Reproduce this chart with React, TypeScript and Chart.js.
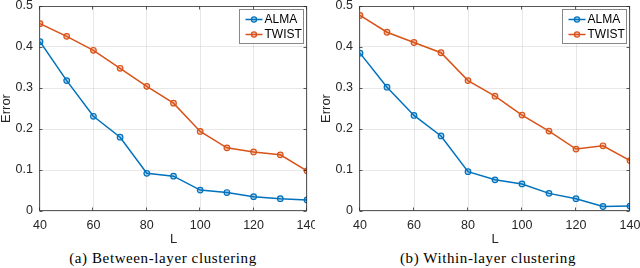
import React, { useEffect, useRef } from "react";
import { Chart, registerables } from "chart.js";

Chart.register(...registerables);

const L = [40, 50, 60, 70, 80, 90, 100, 110, 120, 130, 140];
const almaBetween = [0.413, 0.318, 0.231, 0.18, 0.092, 0.085, 0.051, 0.045, 0.035, 0.03, 0.027];
const twistBetween = [0.457, 0.426, 0.392, 0.348, 0.304, 0.263, 0.194, 0.154, 0.144, 0.137, 0.098];
const almaWithin = [0.385, 0.302, 0.233, 0.183, 0.096, 0.076, 0.066, 0.043, 0.03, 0.011, 0.012];
const twistWithin = [0.477, 0.436, 0.411, 0.386, 0.318, 0.28, 0.234, 0.195, 0.151, 0.159, 0.123];
const seriesNames = ["ALMA", "TWIST"];
const seriesColors = ["#0072BD", "#D95319"];
const seriesFills = ["rgba(0,114,189,0.3)", "rgba(217,83,25,0.3)"];
const xTickStep = 20;
const yTickStep = 0.1;
const xLabel = "L";
const yLabel = "Error";

const SANS = "'Liberation Sans', Arial, Helvetica, sans-serif";
const TEXT = "#262626";

const boxPlugin = {
  id: "matlabBox",
  afterDraw(chart: any) {
    const { ctx, chartArea: a, scales } = chart;
    ctx.save();
    ctx.strokeStyle = "rgba(38,38,38,0.75)";
    ctx.lineWidth = 1;
    const l = Math.round(a.left) - 0.5;
    const r = Math.round(a.right) - 0.5;
    const t = Math.round(a.top) + 0.5;
    const b = Math.round(a.bottom) - 0.5;
    ctx.strokeRect(l, t, r - l, b - t);
    ctx.beginPath();
    const tl = 3;
    scales.x.ticks.forEach((tk: any) => {
      const px = Math.round(scales.x.getPixelForValue(tk.value)) - 0.5;
      ctx.moveTo(px, b);
      ctx.lineTo(px, b - tl);
      ctx.moveTo(px, t);
      ctx.lineTo(px, t + tl);
    });
    scales.y.ticks.forEach((tk: any) => {
      const py = Math.round(scales.y.getPixelForValue(tk.value)) + 0.5;
      ctx.moveTo(l, py);
      ctx.lineTo(l + tl, py);
      ctx.moveTo(r, py);
      ctx.lineTo(r - tl, py);
    });
    ctx.stroke();

    // legend box
    const bw = 64;
    const bh = 34;
    const bx = Math.round(a.right - 4 - bw) + 0.5;
    const by = Math.round(a.top + 3) + 0.5;
    ctx.fillStyle = "#ffffff";
    ctx.fillRect(bx, by, bw, bh);
    ctx.strokeStyle = "rgba(38,38,38,0.55)";
    ctx.strokeRect(bx, by, bw, bh);
    chart.data.datasets.forEach((ds: any, i: number) => {
      const yy = by + 10 + i * 15;
      ctx.strokeStyle = ds.borderColor;
      ctx.lineWidth = 1.5;
      ctx.beginPath();
      ctx.moveTo(bx + 6, yy);
      ctx.lineTo(bx + 23, yy);
      ctx.stroke();
      ctx.beginPath();
      ctx.arc(bx + 14.5, yy, 2.6, 0, Math.PI * 2);
      ctx.fillStyle = ds.pointBackgroundColor;
      ctx.fill();
      ctx.lineWidth = 1.2;
      ctx.stroke();
      ctx.fillStyle = "#000";
      ctx.font = `12px ${SANS}`;
      ctx.textBaseline = "middle";
      ctx.textAlign = "left";
      ctx.fillText(ds.label, bx + 25, yy + 0.5);
    });
    ctx.restore();
  },
};

type PanelProps = {
  left: number;
  width: number;
  padRight: number;
  alma: number[];
  twist: number[];
  caption: string;
  captionCenter: number;
};

const H = 250;

function Panel({ left, width, padRight, alma, twist, caption, captionCenter }: PanelProps) {
  const ref = useRef<HTMLCanvasElement | null>(null);
  useEffect(() => {
    if (!ref.current) return;
    const series = [alma, twist];
    const chart = new Chart(ref.current, {
      type: "line",
      data: {
        datasets: series.map((vals, i) => ({
          label: seriesNames[i],
          data: L.map((x, j) => ({ x, y: vals[j] })),
          borderColor: seriesColors[i],
          backgroundColor: seriesColors[i],
          pointBackgroundColor: seriesFills[i],
          pointBorderColor: seriesColors[i],
          pointRadius: 2.8,
          pointBorderWidth: 1.2,
          borderWidth: 1.5,
          tension: 0,
        })),
      },
      options: {
        responsive: false,
        animation: false,
        devicePixelRatio: 1,
        layout: { padding: { top: 6, right: padRight, left: 0, bottom: 0 } },
        plugins: { legend: { display: false }, tooltip: { enabled: false } },
        scales: {
          x: {
            type: "linear",
            min: L[0],
            max: L[L.length - 1],
            ticks: {
              stepSize: xTickStep,
              color: TEXT,
              font: { family: SANS, size: 12.5 },
              padding: 7,
              maxRotation: 0,
              autoSkip: false,
            },
            grid: { color: "rgba(0,0,0,0.09)", drawTicks: false },
            border: { display: false },
            title: {
              display: true,
              text: xLabel,
              color: TEXT,
              font: { family: SANS, size: 13, lineHeight: 1.2 },
              padding: { top: 0, bottom: 3 },
            },
            afterFit: (s: any) => {
              s.height = H - 211;
              s.paddingLeft = 0;
              s.paddingRight = 0;
            },
          },
          y: {
            min: 0,
            max: 0.5,
            ticks: {
              stepSize: yTickStep,
              color: TEXT,
              font: { family: SANS, size: 12.5 },
              padding: 7,
              callback: (v: any) => String(Math.round(Number(v) * 10) / 10),
            },
            grid: { color: "rgba(0,0,0,0.09)", drawTicks: false },
            border: { display: false },
            title: {
              display: true,
              text: yLabel,
              color: TEXT,
              font: { family: SANS, size: 13, lineHeight: 1 },
              padding: 0,
            },
            afterFit: (s: any) => {
              s.width = 40;
              s.paddingTop = 0;
              s.paddingBottom = 0;
            },
          },
        },
      },
      plugins: [boxPlugin],
    } as any);
    return () => chart.destroy();
  }, [alma, twist, padRight]);

  return (
    <>
      <div style={{ position: "absolute", left, top: 0, width, height: H, overflow: "hidden" }}>
        <canvas ref={ref} width={width + 10} height={H} style={{ display: "block" }} />
      </div>
      <div
        style={{
          position: "absolute",
          left: captionCenter - 150,
          width: 300,
          top: 250,
          textAlign: "center",
          fontFamily: "'Liberation Serif', 'Times New Roman', serif",
          fontSize: 15,
          letterSpacing: "0.6px",
          lineHeight: "17px",
          color: "#000",
          whiteSpace: "nowrap",
        }}
      >
        {caption}
      </div>
    </>
  );
}

export default function App() {
  return (
    <div
      style={{
        position: "fixed",
        left: 0,
        top: 0,
        width: 640,
        height: 268,
        background: "#fff",
        overflow: "hidden",
      }}
    >
      <Panel
        left={0}
        width={315}
        padRight={18}
        alma={almaBetween}
        twist={twistBetween}
        caption="(a) Between-layer clustering"
        captionCenter={163}
      />
      <Panel
        left={320}
        width={320}
        padRight={20}
        alma={almaWithin}
        twist={twistWithin}
        caption="(b) Within-layer clustering"
        captionCenter={488}
      />
    </div>
  );
}
